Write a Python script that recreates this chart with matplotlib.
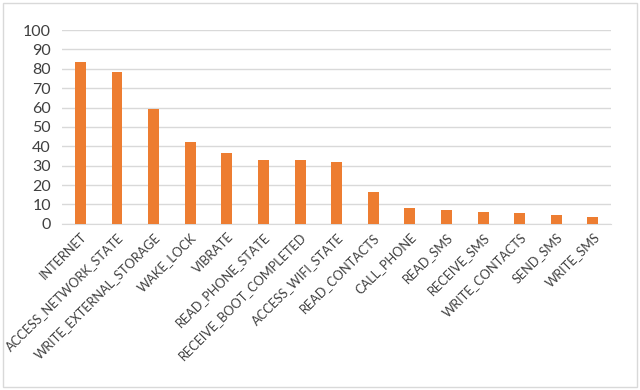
import matplotlib.pyplot as plt
from matplotlib.patches import Rectangle

permissions = ["INTERNET", "ACCESS_NETWORK_STATE", "WRITE_EXTERNAL_STORAGE",
               "WAKE_LOCK", "VIBRATE", "READ_PHONE_STATE",
               "RECEIVE_BOOT_COMPLETED", "ACCESS_WIFI_STATE", "READ_CONTACTS",
               "CALL_PHONE", "READ_SMS", "RECEIVE_SMS", "WRITE_CONTACTS",
               "SEND_SMS", "WRITE_SMS"]
counts = [83.6, 78.3, 59.3, 42.2, 36.8, 32.8, 32.8, 32.0, 16.2,
          8.0, 7.2, 6.2, 5.6, 4.4, 3.6]
yticks = [0, 10, 20, 30, 40, 50, 60, 70, 80, 90, 100]

plt.rcParams['font.family'] = ['Lato', 'DejaVu Sans']

fig = plt.figure(figsize=(6.4, 3.9), dpi=100)
ax = fig.add_axes([0.097, 0.426, 0.858, 0.497])

ax.bar(range(len(permissions)), counts, width=0.3, color="#ED7D31", zorder=3)

ax.set_xlim(-0.5, len(permissions) - 0.5)
ax.set_ylim(0, 100)
ax.set_yticks(yticks)
ax.set_xticks(range(len(permissions)))
ax.set_xticklabels(permissions, rotation=45, ha="right", rotation_mode="anchor",
                   fontsize=9.2, color="#404040")
ax.tick_params(axis="y", labelsize=11.5, colors="#404040", length=0, pad=8)
ax.tick_params(axis="x", length=0, pad=5)
ax.grid(axis="y", color="#D9D9D9", linewidth=1, zorder=0)
for side in ["top", "right", "left"]:
    ax.spines[side].set_visible(False)
ax.spines["bottom"].set_color("#D9D9D9")

fig.patches.append(Rectangle((0.005, 0.008), 0.99, 0.984, transform=fig.transFigure,
                             fill=False, edgecolor="#D9D9D9", linewidth=1))

plt.savefig("out.png", dpi=100)
